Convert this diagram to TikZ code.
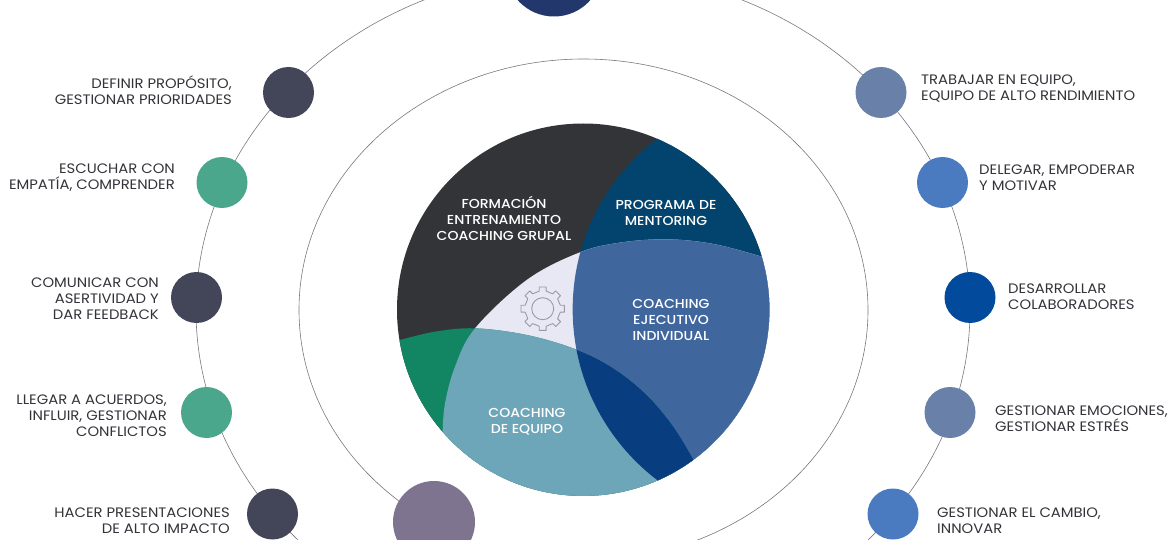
\documentclass[tikz,border=0pt]{standalone}
\usepackage{fontspec}
\setmainfont[FakeStretch=1.08]{Poppins}
\newfontfamily\medfont[FakeStretch=1.08]{Poppins Medium}
\definecolor{cinkdark}{HTML}{333438}
\definecolor{cmentor}{HTML}{03446F}
\definecolor{cblue}{HTML}{40679D}
\definecolor{cgreen}{HTML}{128563}
\definecolor{cteal}{HTML}{6EA6B9}
\definecolor{cnavy}{HTML}{083D80}
\definecolor{clav}{HTML}{E8E8F4}
\definecolor{cslate}{HTML}{434659}
\definecolor{cmint}{HTML}{4BA78B}
\definecolor{csteel}{HTML}{6980A8}
\definecolor{csky}{HTML}{4A7AC0}
\definecolor{croyal}{HTML}{014A9C}
\definecolor{cpurple}{HTML}{7F7490}
\definecolor{ctop}{HTML}{22376B}
\definecolor{ctxt}{HTML}{33333A}
\definecolor{cring}{HTML}{77777F}
\definecolor{cgear}{HTML}{9A9AA6}
\tikzset{
 ringline/.style={draw=cring,line width=0.6pt},
 dot/.style={circle,inner sep=0pt,minimum size=51pt},
 lblL/.style={anchor=east,align=right,inner sep=0pt,text=ctxt,font=\fontsize{13.7}{16}\selectfont},
 lblR/.style={anchor=west,align=left,inner sep=0pt,text=ctxt,font=\fontsize{13.7}{16}\selectfont},
 lblC/.style={align=center,inner sep=0pt,text=white,font=\medfont\fontsize{13}{16}\selectfont},
}
\def\regionL{plot[smooth,tension=0.6] coordinates {(1145,410) (1000,372) (860,358) (720,368) (597,398) (440,480) (285,625) (225,740) (195,850) (188,935)} -- (-200,1300) -- (1000,1700) -- (1700,1000) -- (1700,300) -- cycle}
\def\regionG{plot[smooth,tension=0.6] coordinates {(60,660) (165,635) (285,625) (440,645) (587,688) (700,745) (800,825) (880,920) (940,1018)} -- (1200,1400) -- (-200,1400) -- (-300,700) -- cycle}
\begin{document}
\begin{tikzpicture}[x=1pt,y=-1pt]
\path[use as bounding box,clip] (0,0) rectangle (1170,540);
% rings
\draw[ringline] (583.5,310) ellipse [x radius=284.5,y radius=251];
\draw[ringline] (583,310) ellipse [x radius=387,y radius=340];
% central disc
\begin{scope}
\clip (583.2,309.7) circle (186.2);
\fill[cinkdark] (583.2,309.7) circle (187);
\begin{scope}[shift={(380,120)},x=0.33333pt,y=-0.33333pt]
\fill[cmentor] (1222,568) circle (644);
\fill[clav] \regionL;
\begin{scope}
\clip \regionL;
\fill[cblue] (1222,568) circle (644);
\end{scope}
\fill[cgreen] \regionG;
\begin{scope}
\clip \regionG;
\clip \regionL;
\fill[cteal] (-300,-300) rectangle (1700,1700);
\clip (1222,568) circle (644);
\fill[cnavy] (-300,-300) rectangle (1700,1700);
\end{scope}
\end{scope}
\end{scope}
% gear
\draw[cgear,line width=0.9pt] (542.7,308.7) circle (11);
\draw[cgear,line width=0.9pt,line join=round]
 \foreach \a in {0,45,...,315} {
  ([shift={(542.7,308.7)}]\a-24:17.5) -- ([shift={(542.7,308.7)}]\a-11:18) -- ([shift={(542.7,308.7)}]\a-9:22) -- ([shift={(542.7,308.7)}]\a+9:22) -- ([shift={(542.7,308.7)}]\a+11:18) -- ([shift={(542.7,308.7)}]\a+24:17.5)
 };
% outer dots
\node[dot,fill=ctop,minimum size=97pt] (top) at (554,-32) {};
\node[dot,fill=cpurple,minimum size=82pt] (bottom) at (434,522) {};
\node[dot,fill=cslate] (d1) at (288.5,92.5) {};
\node[dot,fill=cmint] (d2) at (222,182.5) {};
\node[dot,fill=cslate] (d3) at (196.5,297.5) {};
\node[dot,fill=cmint] (d4) at (206.5,412.5) {};
\node[dot,fill=cslate] (d5) at (272.5,514) {};
\node[dot,fill=csteel] (e1) at (881,92.5) {};
\node[dot,fill=csky] (e2) at (942.5,182.5) {};
\node[dot,fill=croyal] (e3) at (970,297.5) {};
\node[dot,fill=csteel] (e4) at (950,412.5) {};
\node[dot,fill=csky] (e5) at (893,514) {};
% labels left
\node[lblL] (t1) at (232,90.5) {DEFINIR PROPÓSITO,\\GESTIONAR PRIORIDADES};
\node[lblL] (t2) at (175,177.5) {ESCUCHAR CON\\EMPATÍA, COMPRENDER};
\node[lblL] (t3) at (159,298.5) {COMUNICAR CON\\ASERTIVIDAD Y\\DAR FEEDBACK};
\node[lblL] (t4) at (167,415.5) {LLEGAR A ACUERDOS,\\INFLUIR, GESTIONAR\\CONFLICTOS};
\node[lblL] (t5) at (230,520.5) {HACER PRESENTACIONES\\DE ALTO IMPACTO};
% labels right
\node[lblR] (r1) at (921,88.5) {TRABAJAR EN EQUIPO,\\EQUIPO DE ALTO RENDIMIENTO};
\node[lblR] (r2) at (979,177.5) {DELEGAR, EMPODERAR\\Y MOTIVAR};
\node[lblR] (r3) at (1008,296.5) {DESARROLLAR\\COLABORADORES};
\node[lblR] (r4) at (995,418.5) {GESTIONAR EMOCIONES,\\GESTIONAR ESTRÉS};
\node[lblR] (r5) at (937,520.5) {GESTIONAR EL CAMBIO,\\INNOVAR};
% centre labels
\node[lblC] (c1) at (504,218.5) {FORMACIÓN\\ENTRENAMIENTO\\COACHING GRUPAL};
\node[lblC] (c2) at (666,213) {PROGRAMA DE\\MENTORING};
\node[lblC] (c3) at (671,320) {COACHING\\EJECUTIVO\\INDIVIDUAL};
\node[lblC] (c4) at (527,422) {COACHING\\DE EQUIPO};
\end{tikzpicture}
\end{document}
